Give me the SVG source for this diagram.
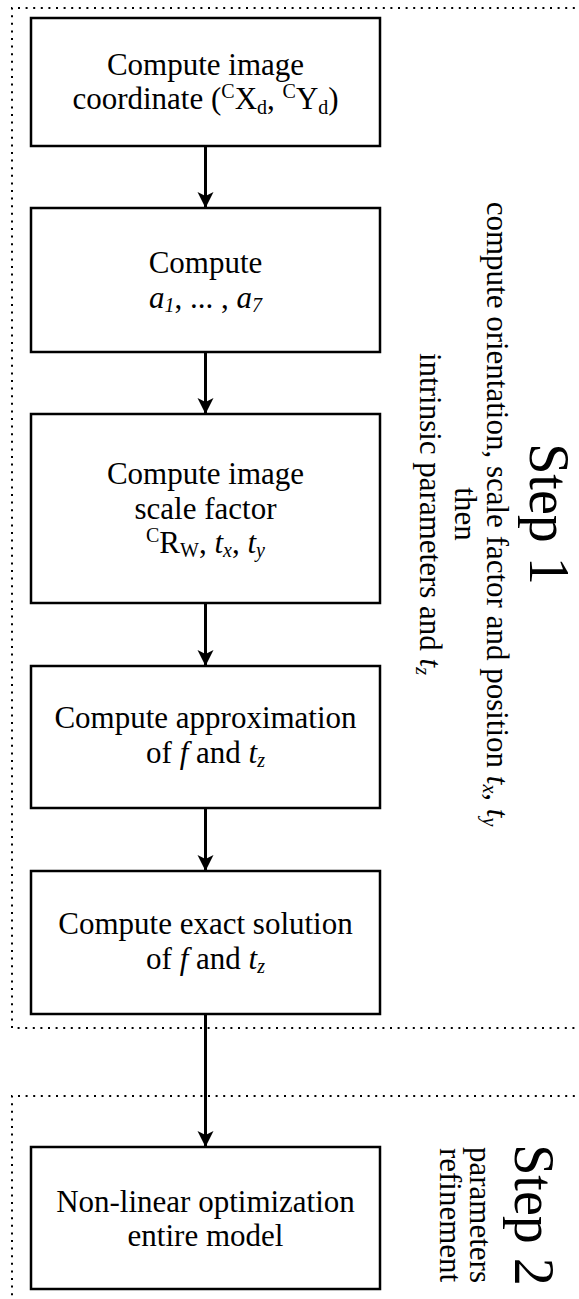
<svg xmlns="http://www.w3.org/2000/svg" width="579" height="1299" viewBox="0 0 579 1299">
<style>
.frame{fill:none;stroke:#000;stroke-width:2;stroke-dasharray:2 5.6}
.box{fill:#fff;stroke:#000;stroke-width:2.5}
.t{font-size:31px;fill:#000;text-anchor:middle}
.big{font-size:56px}
.s{font-size:20px}
.i{font-style:italic}
.conn{stroke:#000;stroke-width:3;fill:none}
</style>
<defs>
<marker id="ah" markerUnits="userSpaceOnUse" markerWidth="18" markerHeight="18" refX="16" refY="8" orient="auto">
<path d="M0,0 L16,8 L0,16 L4,8 Z" fill="#000"/>
</marker>
</defs>
<g id="step1-frame"><path class="frame" d="M590,8 H12 V1028 H590"/></g>
<g id="step2-frame"><path class="frame" d="M590,1096 H12 V1310"/></g>
<g id="connectors">
<line class="conn" x1="205.5" y1="146" x2="205.5" y2="208" marker-end="url(#ah)"/>
<line class="conn" x1="205.5" y1="352" x2="205.5" y2="414" marker-end="url(#ah)"/>
<line class="conn" x1="205.5" y1="603" x2="205.5" y2="666" marker-end="url(#ah)"/>
<line class="conn" x1="205.5" y1="808" x2="205.5" y2="871" marker-end="url(#ah)"/>
<line class="conn" x1="205.5" y1="1014" x2="205.5" y2="1147" marker-end="url(#ah)"/>
</g>
<g font-family="'Liberation Serif', 'Times New Roman', Times, serif">
<g id="n1">
<rect class="box" x="31" y="18" width="349" height="128"/>
<text class="t" x="205.5" y="75">Compute image</text>
<text class="t" x="205.5" y="109">coordinate (<tspan class="s" dy="-11">C</tspan><tspan dy="11">X</tspan><tspan class="s" dy="5">d</tspan><tspan dy="-5">, </tspan><tspan class="s" dy="-11">C</tspan><tspan dy="11">Y</tspan><tspan class="s" dy="5">d</tspan><tspan dy="-5">)</tspan></text>
</g>
<g id="n2">
<rect class="box" x="31" y="208" width="349" height="144"/>
<text class="t" x="205.5" y="273">Compute</text>
<text class="t" x="205.5" y="308"><tspan class="i">a</tspan><tspan class="s i" dy="4">1</tspan><tspan dy="-4">, ... , </tspan><tspan class="i">a</tspan><tspan class="s i" dy="4">7</tspan></text>
</g>
<g id="n3">
<rect class="box" x="31" y="414" width="349" height="189"/>
<text class="t" x="205.5" y="484">Compute image</text>
<text class="t" x="205.5" y="519">scale factor</text>
<text class="t" x="205.5" y="553"><tspan class="s" dy="-11">C</tspan><tspan dy="11">R</tspan><tspan class="s" dy="4">W</tspan><tspan dy="-4">, </tspan><tspan class="i">t</tspan><tspan class="s i" dy="4">x</tspan><tspan dy="-4">, </tspan><tspan class="i">t</tspan><tspan class="s i" dy="4">y</tspan></text>
</g>
<g id="n4">
<rect class="box" x="31" y="666" width="349" height="142"/>
<text class="t" x="205.5" y="728">Compute approximation</text>
<text class="t" x="205.5" y="763">of <tspan class="i">f</tspan> and <tspan class="i">t</tspan><tspan class="s i" dy="4">z</tspan></text>
</g>
<g id="n5">
<rect class="box" x="31" y="871" width="349" height="143"/>
<text class="t" x="205.5" y="934">Compute exact solution</text>
<text class="t" x="205.5" y="969">of <tspan class="i">f</tspan> and <tspan class="i">t</tspan><tspan class="s i" dy="4">z</tspan></text>
</g>
<g id="n6">
<rect class="box" x="31" y="1147" width="349" height="142"/>
<text class="t" x="205.5" y="1212">Non-linear optimization</text>
<text class="t" x="205.5" y="1246">entire model</text>
</g>
<g id="step1-label" transform="translate(530,514) rotate(90)">
<text class="t big" x="0" y="0">Step  1</text>
<text class="t" x="0" y="43">compute orientation, scale factor and position <tspan class="i">t</tspan><tspan class="s i" dy="4">x</tspan><tspan dy="-4">, </tspan><tspan class="i">t</tspan><tspan class="s i" dy="4">y</tspan></text>
<text class="t" x="0" y="75">then</text>
<text class="t" x="0" y="110">intrinsic parameters and <tspan class="i">t</tspan><tspan class="s i" dy="4">z</tspan></text>
</g>
<g id="step2-label" transform="translate(515,1215) rotate(90)">
<text class="t big" x="0" y="0">Step  2</text>
<text class="t" x="0" y="45">parameters</text>
<text class="t" x="0" y="75">refinement</text>
</g>
</g>
</svg>
